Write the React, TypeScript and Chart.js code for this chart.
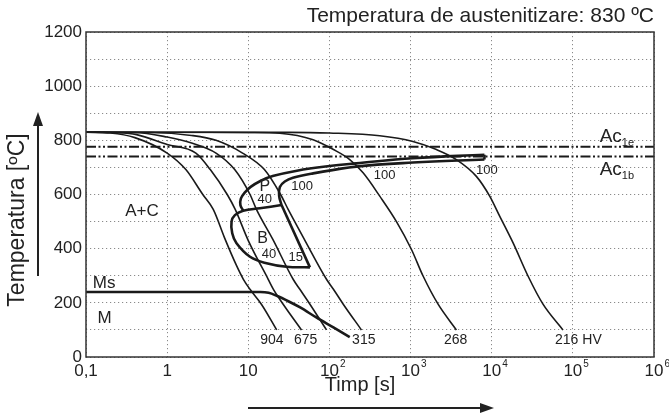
import React, { useEffect, useRef } from 'react';
import { Chart, registerables } from 'chart.js';

Chart.register(...registerables);

const FONT = '"Liberation Sans", Arial, Helvetica, sans-serif';

// ---------- axis ticks ----------
const xTickValues = [0.1, 1, 10, 100, 1000, 10000, 100000, 1000000];
const xTickLabels = ['0,1', '1', '10', '10^2', '10^3', '10^4', '10^5', '10^6'];
const yMin = 0;
const yMax = 1200;
const yGridStep = 100;
const yLabelStep = 200;

// ---------- cooling curves (time s, temperature °C) ----------
const c904Time = [0.1, 0.2, 0.4, 1, 1.7, 2.75, 3.7, 5.1, 7.1, 8.7, 10.5, 14.5, 22.4];
const c904Temp = [830, 827, 810, 753, 692, 600, 545, 440, 340, 287, 250, 195, 100];

const c675Time = [0.1, 0.25, 0.42, 1, 2.26, 3.4, 5.5, 6.9, 10, 17.6, 20.4, 26.9, 45.3];
const c675Temp = [830, 828, 821, 785, 753, 692, 600, 545, 430, 287, 250, 195, 100];

const c3Time = [0.1, 0.4, 1, 2, 4, 6.8, 10.5, 12.6, 20, 35.7, 43.2, 57.5, 92];
const c3Temp = [830, 829, 812, 790, 753, 692, 600, 545, 435, 287, 250, 195, 100];

const c315Time = [0.1, 0.63, 2, 4, 8.5, 15.8, 25, 31, 50, 92, 112, 148, 248];
const c315Temp = [830, 829, 818, 800, 753, 692, 600, 545, 430, 287, 250, 195, 100];

const c268Time = [0.1, 3.2, 10, 24.5, 63, 112, 178, 260, 417, 670, 1026, 1426, 2183, 3670];
const c268Temp = [830, 830, 829, 826, 802, 766, 729, 680, 594, 500, 397, 299, 195, 100];

const c216Time = [0.1, 31.6, 100, 417, 1070, 2085, 3670, 6470, 9440, 12530, 18280, 28000, 42850, 75500];
const c216Temp = [830, 829.5, 827, 817, 796, 766, 729, 667, 594, 520, 422, 299, 195, 100];

// ---------- transformation lines ----------
const msTime = [0.1, 14.1, 17.8, 22.4, 31.6, 43.6, 69, 112, 178];
const msTemp = [240, 240, 237, 226, 205, 183, 146, 109, 73];

const pStartTime = [8.65, 8.0, 8.1, 9.1, 10.7, 14.1, 20, 39.8, 100, 214, 1070, 8130];
const pStartTemp = [541, 560, 585, 608, 628, 650, 668, 688, 705, 715, 734, 747];

const pFinishTime = [8130, 1070, 214, 63, 35.5, 28.2, 24.5, 24, 25.7];
const pFinishTemp = [729, 718, 703, 678, 662, 648, 628, 595, 561];

const pEndTime = [8130, 8130];
const pEndTemp = [747, 729];

const bFinishTime = [25.7, 57.5];
const bFinishTemp = [561, 331];

const bStartTime = [25.7, 13.9, 8.65, 6.84, 6.22, 6.34, 7.16, 10.5, 16.8, 29.6, 57.5];
const bStartTemp = [561, 549, 540, 524, 500, 457, 420, 370, 346, 333, 331];

const ac1eTemp = 776;
const ac1bTemp = 740;

// ---------- texts placed in data space ----------
const textMarks = [
  { text: '904', t: 19.5, T: 63, size: 14 },
  { text: '675', t: 51, T: 63, size: 14 },
  { text: '315', t: 265, T: 63, size: 14 },
  { text: '268', t: 3600, T: 63, size: 14 },
  { text: '216 HV', t: 117000, T: 63, size: 14 },
  { text: '100', t: 46, T: 628, size: 13 },
  { text: '100', t: 480, T: 672, size: 13 },
  { text: '100', t: 8700, T: 690, size: 13 },
  { text: 'P', t: 16, T: 628, size: 16 },
  { text: '40', t: 16, T: 580, size: 13 },
  { text: 'B', t: 15, T: 439, size: 16 },
  { text: '40', t: 18, T: 380, size: 13 },
  { text: '15', t: 38.5, T: 366, size: 13 },
  { text: 'A+C', t: 0.49, T: 539, size: 17 },
  { text: 'Ms', t: 0.167, T: 273, size: 17 },
  { text: 'M', t: 0.17, T: 144, size: 17 },
];

const acMarks = [
  { main: 'Ac', sub: '1e', t: 214000, T: 812 },
  { main: 'Ac', sub: '1b', t: 214000, T: 690 },
];

const chartTitle = 'Temperatura de austenitizare: 830 ºC';
const yTitle = 'Temperatura [ºC]';
const xTitle = 'Timp [s]';

const zip = (t: number[], T: number[]) => t.map((v, i) => ({ x: v, y: T[i] }));

const overlay = {
  id: 'overlay',
  afterDraw(chart: any) {
    const { ctx, chartArea: a, scales } = chart;
    const xs = scales.x;
    const ys = scales.y;
    ctx.save();
    ctx.setLineDash([]);
    ctx.strokeStyle = '#333';
    ctx.lineWidth = 1.5;
    ctx.strokeRect(a.left, a.top, a.right - a.left, a.bottom - a.top);

    ctx.fillStyle = '#222';
    ctx.textBaseline = 'middle';

    // x tick labels with superscripts
    xTickValues.forEach((v, i) => {
      const px = xs.getPixelForValue(v);
      const [base, exp] = xTickLabels[i].split('^');
      ctx.font = `17px ${FONT}`;
      ctx.textAlign = 'center';
      ctx.fillText(base, px, a.bottom + 14);
      if (exp) {
        const bw = ctx.measureText(base).width;
        ctx.font = `10px ${FONT}`;
        ctx.textAlign = 'left';
        ctx.fillText(exp, px + bw / 2 + 1, a.bottom + 7);
      }
    });

    // title
    ctx.font = `21px ${FONT}`;
    ctx.textAlign = 'right';
    ctx.fillText(chartTitle, a.right, 16);

    // x title & arrow
    ctx.font = `20px ${FONT}`;
    ctx.textAlign = 'center';
    ctx.fillText(xTitle, 360, 385);
    ctx.strokeStyle = '#222';
    ctx.lineWidth = 2;
    ctx.beginPath();
    ctx.moveTo(248, 408);
    ctx.lineTo(482, 408);
    ctx.stroke();
    ctx.beginPath();
    ctx.moveTo(494, 408);
    ctx.lineTo(480, 403);
    ctx.lineTo(480, 413);
    ctx.closePath();
    ctx.fill();

    // y title & arrow
    ctx.save();
    ctx.translate(18, 220);
    ctx.rotate(-Math.PI / 2);
    ctx.font = `23px ${FONT}`;
    ctx.textAlign = 'center';
    ctx.fillText(yTitle, 0, 0);
    ctx.restore();
    ctx.beginPath();
    ctx.moveTo(38, 276);
    ctx.lineTo(38, 124);
    ctx.stroke();
    ctx.beginPath();
    ctx.moveTo(38, 112);
    ctx.lineTo(33, 126);
    ctx.lineTo(43, 126);
    ctx.closePath();
    ctx.fill();

    // in-plot texts
    ctx.textAlign = 'center';
    textMarks.forEach((m) => {
      ctx.font = `${m.size}px ${FONT}`;
      ctx.fillText(m.text, xs.getPixelForValue(m.t), ys.getPixelForValue(m.T));
    });
    acMarks.forEach((m) => {
      const px = xs.getPixelForValue(m.t);
      const py = ys.getPixelForValue(m.T);
      ctx.font = `19px ${FONT}`;
      ctx.textAlign = 'left';
      ctx.fillText(m.main, px, py);
      const w = ctx.measureText(m.main).width;
      ctx.font = `11px ${FONT}`;
      ctx.fillText(m.sub, px + w, py + 6);
    });
    ctx.restore();
  },
};

export default function App() {
  const ref = useRef<HTMLCanvasElement | null>(null);
  useEffect(() => {
    if (!ref.current) return;
    const thin = { borderColor: '#1a1a1a', borderWidth: 1.6, pointRadius: 0, fill: false, cubicInterpolationMode: 'monotone' as const };
    const thick = { borderColor: '#1a1a1a', borderWidth: 2.6, pointRadius: 0, fill: false };
    const acLine = (T: number) => ({
      data: [{ x: xTickValues[0], y: T }, { x: xTickValues[xTickValues.length - 1], y: T }],
      borderColor: '#1a1a1a',
      borderWidth: 2,
      borderDash: [10, 2.5, 2, 2.5, 2, 2.5],
      pointRadius: 0,
      fill: false,
    });
    const chart = new Chart(ref.current, {
      type: 'line',
      data: {
        datasets: [
          acLine(ac1eTemp),
          acLine(ac1bTemp),
          { ...thin, data: zip(c904Time, c904Temp) },
          { ...thin, data: zip(c675Time, c675Temp) },
          { ...thin, data: zip(c3Time, c3Temp) },
          { ...thin, data: zip(c315Time, c315Temp) },
          { ...thin, data: zip(c268Time, c268Temp) },
          { ...thin, data: zip(c216Time, c216Temp) },
          { ...thick, cubicInterpolationMode: 'monotone' as const, data: zip(msTime, msTemp) },
          { ...thick, tension: 0.4, data: zip(pStartTime, pStartTemp) },
          { ...thick, tension: 0.4, data: zip(pFinishTime, pFinishTemp) },
          { ...thick, tension: 0, data: zip(pEndTime, pEndTemp) },
          { ...thick, tension: 0, data: zip(bFinishTime, bFinishTemp) },
          { ...thick, tension: 0.4, data: zip(bStartTime, bStartTemp) },
        ] as any,
      },
      options: {
        animation: false,
        responsive: false,
        devicePixelRatio: 1,
        layout: { padding: { top: 32, right: 15, left: 0, bottom: 0 } },
        plugins: { legend: { display: false }, tooltip: { enabled: false }, title: { display: false } },
        scales: {
          x: {
            type: 'logarithmic',
            min: xTickValues[0],
            max: xTickValues[xTickValues.length - 1],
            afterBuildTicks: (s: any) => {
              s.ticks = xTickValues.map((v) => ({ value: v }));
            },
            afterFit: (s: any) => {
              s.height = 61;
            },
            ticks: { display: false },
            grid: { color: '#8a8a8a', lineWidth: 1, drawTicks: false },
            border: { display: false, dash: [1.2, 2.8] },
          },
          y: {
            type: 'linear',
            min: yMin,
            max: yMax,
            afterFit: (s: any) => {
              s.width = 86;
            },
            ticks: {
              stepSize: yGridStep,
              padding: 4,
              color: '#222',
              font: { family: FONT, size: 17 },
              callback: (v: any) => (Number(v) % yLabelStep === 0 ? String(v) : ''),
            },
            grid: { color: '#8a8a8a', lineWidth: 1, drawTicks: false },
            border: { display: false, dash: [1.2, 2.8] },
          },
        },
      } as any,
      plugins: [overlay],
    });
    return () => chart.destroy();
  }, []);
  return (
    <div style={{ position: 'absolute', left: 0, top: 0, width: 669, height: 418, background: '#fff' }}>
      <canvas ref={ref} width={669} height={418} />
    </div>
  );
}
